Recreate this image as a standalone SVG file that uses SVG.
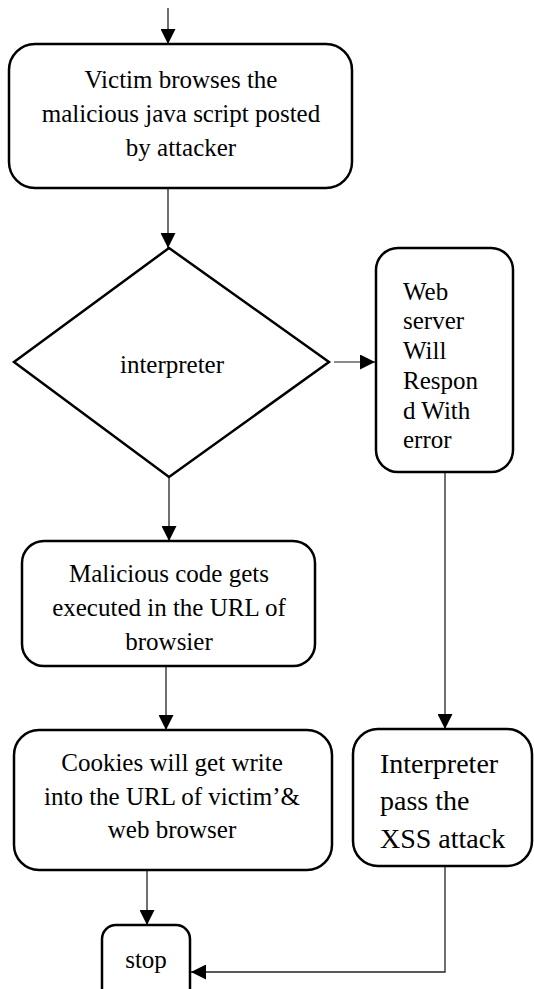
<svg xmlns="http://www.w3.org/2000/svg" width="534" height="989" viewBox="0 0 534 989">
  <style>
    .box { fill: #ffffff; stroke: #000000; stroke-width: 2.5; }
    .t { font-family: "Liberation Serif", "Times New Roman", serif; font-size: 25px; fill: #000000; }
    .c { text-anchor: middle; }
    .big { font-size: 28px; }
    .conn { fill: none; stroke: #222222; stroke-width: 1.3; }
    .gray { stroke: #8a8a8a; stroke-width: 2.2; }
  </style>
  <defs>
    <marker id="arrow" markerUnits="userSpaceOnUse" markerWidth="15" markerHeight="15" refX="15" refY="7.5" orient="auto" viewBox="0 0 15 15">
      <path d="M0,0 L15,7.5 L0,15 z" fill="#000000"/>
    </marker>
  </defs>
  <rect width="534" height="989" fill="#ffffff"/>

  <g id="connectors">
    <line class="conn" x1="168" y1="8" x2="168" y2="44" marker-end="url(#arrow)"/>
    <line class="conn" x1="168" y1="188" x2="168" y2="248" marker-end="url(#arrow)"/>
    <line class="conn gray" x1="334" y1="362" x2="375" y2="362" marker-end="url(#arrow)"/>
    <line class="conn" x1="169" y1="477" x2="169" y2="541" marker-end="url(#arrow)"/>
    <line class="conn" x1="166" y1="664" x2="166" y2="730" marker-end="url(#arrow)"/>
    <line class="conn" x1="445" y1="472" x2="445" y2="729" marker-end="url(#arrow)"/>
    <line class="conn" x1="147" y1="868" x2="147" y2="925" marker-end="url(#arrow)"/>
    <polyline class="conn" points="445,866 445,972 191,972" marker-end="url(#arrow)"/>
  </g>

  <g id="victim-browses">
    <rect class="box" x="9" y="44" width="343" height="144" rx="26" ry="26"/>
    <text class="t c" x="181" y="88">Victim browses the</text>
    <text class="t c" x="181" y="122">malicious java script posted</text>
    <text class="t c" x="181" y="156">by attacker</text>
  </g>

  <g id="interpreter-decision">
    <polygon class="box" points="169,248 329,362 169,477 14,362"/>
    <text class="t c" x="172" y="373">interpreter</text>
  </g>

  <g id="web-server-error">
    <rect class="box" x="376" y="248" width="137" height="224" rx="22" ry="22"/>
    <text class="t" x="403" y="300">Web</text>
    <text class="t" x="403" y="329">server</text>
    <text class="t" x="403" y="359">Will</text>
    <text class="t" x="403" y="389">Respon</text>
    <text class="t" x="403" y="419">d With</text>
    <text class="t" x="403" y="448">error</text>
  </g>

  <g id="malicious-code">
    <rect class="box" x="22" y="541" width="293" height="125" rx="22" ry="22"/>
    <text class="t c" x="169" y="582">Malicious code gets</text>
    <text class="t c" x="169" y="616">executed in the URL of</text>
    <text class="t c" x="169" y="650">browsier</text>
  </g>

  <g id="cookies">
    <rect class="box" x="14" y="730" width="318" height="140" rx="25" ry="25"/>
    <text class="t c" x="172" y="771">Cookies will get write</text>
    <text class="t c" x="172" y="805">into the URL of victim’&amp;</text>
    <text class="t c" x="172" y="838">web browser</text>
  </g>

  <g id="interpreter-pass">
    <rect class="box" x="353" y="729" width="179" height="137" rx="25" ry="25"/>
    <text class="t big" x="380" y="773">Interpreter</text>
    <text class="t big" x="380" y="810">pass the</text>
    <text class="t big" x="380" y="848">XSS attack</text>
  </g>

  <g id="stop">
    <rect class="box" x="102" y="925" width="88" height="84" rx="14" ry="14"/>
    <text class="t c" x="146" y="968">stop</text>
  </g>
</svg>
